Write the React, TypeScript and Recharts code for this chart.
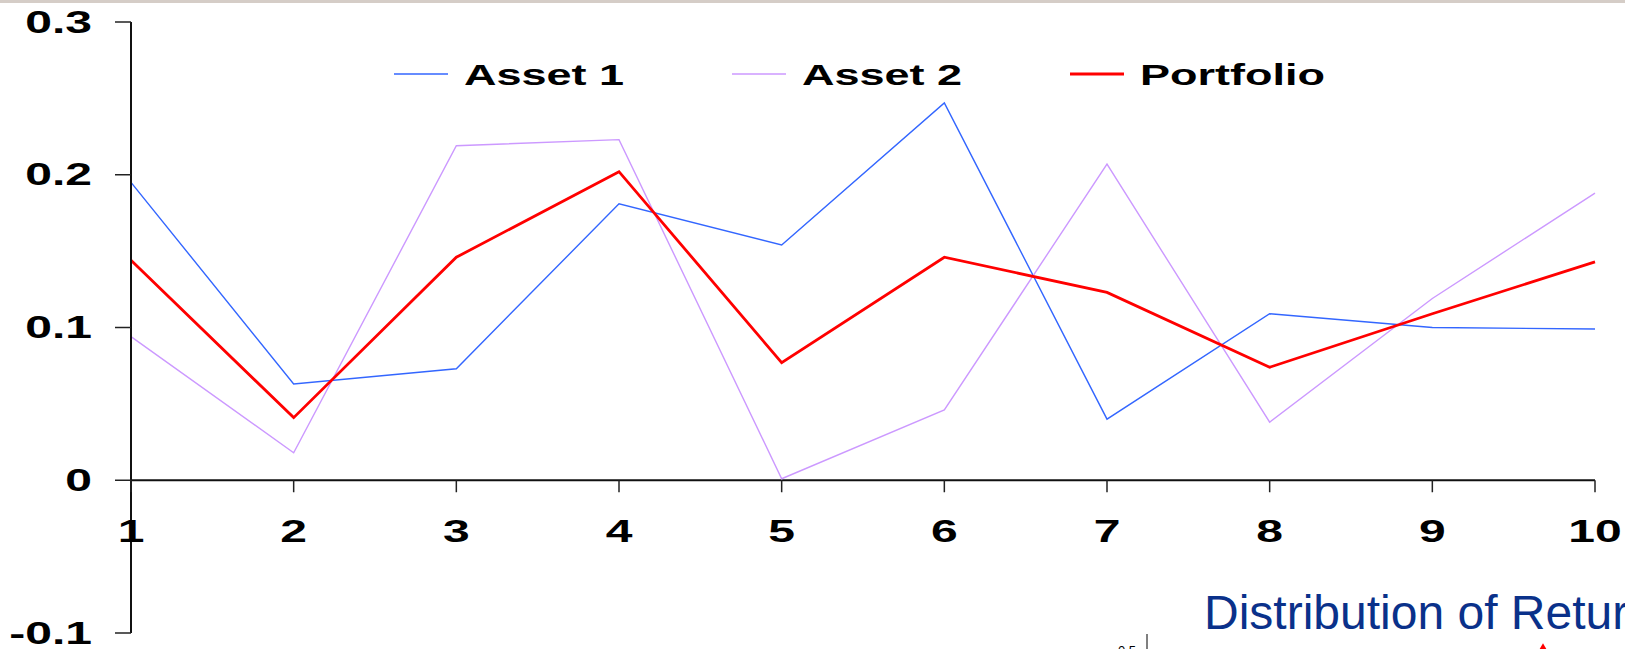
import React from "react";
import {
  LineChart,
  Line,
  XAxis,
  YAxis,
  ReferenceLine,
  Legend,
  ScatterChart,
  Scatter,
} from "recharts";

// returns per period
const periods = ["1", "2", "3", "4", "5", "6", "7", "8", "9", "10"];
const asset1 = [0.195, 0.063, 0.073, 0.181, 0.154, 0.247, 0.04, 0.109, 0.1, 0.099];
const asset2 = [0.094, 0.018, 0.219, 0.223, 0.001, 0.046, 0.207, 0.038, 0.119, 0.188];
const portfolio = [0.144, 0.041, 0.146, 0.202, 0.077, 0.146, 0.123, 0.074, 0.109, 0.143];
const yTicks = [-0.1, 0, 0.1, 0.2, 0.3];

// next chart on the slide, only its top edge shows
const nextTicks = [0.5];
const nextPoints = [{ x: 0.8, y: 0.5 }];

const series = [
  { key: "asset1", name: "Asset 1", color: "#3366ff", width: 1.4 },
  { key: "asset2", name: "Asset 2", color: "#cc99ff", width: 1.4 },
  { key: "portfolio", name: "Portfolio", color: "#ff0000", width: 2.8 },
];

const data = periods.map((p, i) => ({
  period: p,
  asset1: asset1[i],
  asset2: asset2[i],
  portfolio: portfolio[i],
}));

const W = 1625;
const H = 649;
const X_AXIS_H = 16;
const MARGIN = { top: 22, right: 30, left: 0, bottom: 0 };
const Y_MIN = -0.1;
const Y_MAX = 0.3;
const PLOT_H = H - MARGIN.top - MARGIN.bottom - X_AXIS_H;
const ZERO_Y = MARGIN.top + (PLOT_H * Y_MAX) / (Y_MAX - Y_MIN);

const FONT = "'Liberation Sans', Arial, sans-serif";
const STRETCH = 1.55;

const YTick = ({ x, y, payload }: any) => (
  <text
    transform={`translate(${x},${y}) scale(${STRETCH},1)`}
    textAnchor="end"
    dominantBaseline="central"
    fontFamily={FONT}
    fontWeight="bold"
    fontSize={31}
    fill="#000"
  >
    {String(payload.value)}
  </text>
);

// x axis sits on the zero line rather than the bottom of the plot
const XTick = ({ x, payload }: any) => (
  <g>
    <line x1={x} x2={x} y1={ZERO_Y} y2={ZERO_Y + 12} stroke="#222" strokeWidth={1.5} />
    <text
      transform={`translate(${x},${ZERO_Y + 62}) scale(${STRETCH},1)`}
      textAnchor="middle"
      fontFamily={FONT}
      fontWeight="bold"
      fontSize={31}
      fill="#000"
    >
      {payload.value}
    </text>
  </g>
);

const renderLegend = () => (
  <svg width={W} height={50}>
    {series.map((s, i) => {
      const x0 = 394 + i * 338;
      return (
        <g key={s.key}>
          <line x1={x0} x2={x0 + 54} y1={22} y2={22} stroke={s.color} strokeWidth={s.width} />
          <text
            transform={`translate(${x0 + 70},33) scale(1.5,1)`}
            fontFamily={FONT}
            fontWeight="bold"
            fontSize={30}
            fill="#000"
          >
            {s.name}
          </text>
        </g>
      );
    })}
  </svg>
);

export default function App() {
  return (
    <div
      style={{
        position: "absolute",
        left: 0,
        top: 0,
        width: W,
        height: H,
        overflow: "hidden",
        background: "#fff",
      }}
    >
      <LineChart width={W} height={H} data={data} margin={MARGIN}>
        <XAxis
          dataKey="period"
          height={X_AXIS_H}
          axisLine={false}
          tickLine={false}
          tick={<XTick />}
          interval={0}
        />
        <YAxis
          width={131}
          domain={[Y_MIN, Y_MAX]}
          ticks={yTicks}
          allowDataOverflow
          tickSize={16}
          tickMargin={23}
          axisLine={{ stroke: "#111", strokeWidth: 2 }}
          tickLine={{ stroke: "#222", strokeWidth: 1.5 }}
          tick={<YTick />}
        />
        <ReferenceLine y={0} stroke="#111" strokeWidth={2} />
        <Legend
          layout="horizontal"
          verticalAlign="middle"
          align="center"
          content={renderLegend}
          wrapperStyle={{ top: 52, left: 0, width: W }}
        />
        {series.map((s) => (
          <Line
            key={s.key}
            type="linear"
            dataKey={s.key}
            name={s.name}
            stroke={s.color}
            strokeWidth={s.width}
            dot={false}
            activeDot={false}
            isAnimationActive={false}
          />
        ))}
      </LineChart>

      <div
        style={{
          position: "absolute",
          left: 1204,
          top: 583,
          fontFamily: FONT,
          fontSize: 48,
          color: "#0a318a",
          whiteSpace: "nowrap",
          lineHeight: "60px",
        }}
      >
        Distribution of Returns
      </div>

      <div style={{ position: "absolute", left: 1090, top: 624 }}>
        <ScatterChart width={552} height={110} margin={{ top: 10, right: 0, left: 0, bottom: 0 }}>
          <XAxis type="number" dataKey="x" domain={[0, 1]} hide height={0} />
          <YAxis
            type="number"
            dataKey="y"
            width={57}
            domain={[0, 0.6]}
            ticks={nextTicks}
            tickLine={false}
            tickMargin={5}
            axisLine={{ stroke: "#000", strokeWidth: 1 }}
            tick={{ fontFamily: FONT, fontSize: 13, fill: "#000" }}
          />
          <Scatter
            data={nextPoints}
            fill="#ff0000"
            shape="diamond"
            isAnimationActive={false}
          />
        </ScatterChart>
      </div>

      <div
        style={{
          position: "absolute",
          left: 0,
          top: 0,
          width: W,
          height: 3,
          background: "#d5cdc7",
        }}
      />
    </div>
  );
}
